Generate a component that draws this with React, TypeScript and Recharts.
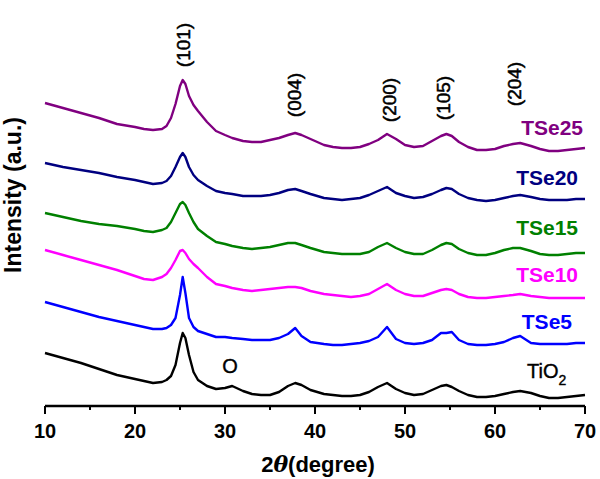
import React from "react"
import { LineChart, Line, XAxis, YAxis } from "recharts"

const twoTheta = [
  10, 12, 14, 16, 18, 20, 21, 22, 23, 23.5, 24, 24.5, 25, 25.3, 25.6, 26, 26.5, 27, 28, 29,
  30, 30.8, 32, 33, 34, 35, 36, 37, 37.8, 38.5, 39.5, 41, 42, 43, 44, 45, 46, 47, 48, 49,
  50, 51, 52, 53, 54, 54.6, 55.2, 56, 57, 58, 59, 60, 61, 62, 62.8, 64, 65, 66, 67, 68, 69, 70
]

// intensities (a.u., already offset for stacking)
const tio2 = [
  53, 48, 43, 37, 31, 27, 25, 23, 24, 26, 30, 41, 63, 73, 68, 51, 34, 26, 20, 17,
  18, 20, 15, 12, 11, 11, 14, 20, 23, 21, 16, 12, 11, 10, 10, 11, 14, 19, 23, 17,
  13, 11, 12, 16, 20, 21, 19, 15, 11, 9, 9, 10, 12, 14, 15, 13, 10, 8, 8, 9, 10, 11
]
const tse5 = [
  104, 99, 94, 89, 85, 81, 79, 77, 77, 78, 81, 88, 111, 129, 113, 88, 79, 75, 72, 69,
  69, 68, 67, 66, 66, 66, 68, 72, 78, 70, 64, 62, 61, 61, 62, 63, 65, 69, 79, 67,
  63, 62, 63, 66, 73, 73, 74, 66, 62, 61, 61, 62, 64, 68, 70, 63, 62, 62, 62, 62, 63, 63
]
const tse10 = [
  156, 151, 146, 141, 136, 130, 127, 126, 129, 132, 138, 146, 155, 156, 153, 147, 142, 138, 129, 122,
  120, 118, 116, 115, 116, 117, 118, 119, 119, 118, 115, 112, 111, 110, 109, 110, 112, 117, 122, 116,
  112, 110, 110, 113, 116, 117, 116, 112, 109, 108, 108, 109, 110, 111, 112, 110, 109, 108, 108, 108, 108, 108
]
const tse15 = [
  193, 189, 185, 182, 180, 177, 175, 174, 176, 178, 184, 193, 202, 204, 201, 193, 184, 177, 170, 164,
  162, 160, 158, 157, 158, 159, 161, 163, 163, 161, 158, 154, 153, 152, 152, 152, 154, 159, 163, 158,
  154, 152, 152, 156, 161, 163, 162, 157, 153, 151, 151, 153, 156, 158, 158, 155, 152, 151, 151, 152, 153, 153
]
const tse20 = [
  243, 239, 236, 233, 229, 226, 224, 222, 223, 225, 230, 239, 249, 253, 249, 239, 231, 226, 220, 215,
  213, 212, 210, 210, 210, 211, 213, 216, 217, 215, 212, 208, 207, 206, 207, 208, 211, 215, 219, 213,
  210, 208, 209, 212, 216, 218, 217, 212, 208, 206, 205, 206, 208, 210, 211, 209, 207, 206, 206, 206, 207, 207
]
const tse25 = [
  303, 298, 293, 288, 282, 279, 277, 276, 277, 280, 288, 302, 320, 326, 322, 310, 301, 295, 284, 275,
  271, 268, 265, 264, 264, 266, 268, 271, 273, 271, 267, 261, 259, 258, 258, 259, 262, 266, 272, 267,
  261, 259, 260, 265, 270, 272, 270, 264, 259, 256, 256, 257, 260, 262, 263, 260, 257, 255, 255, 256, 257, 258
]

const xTicks = [10, 15, 20, 25, 30, 35, 40, 45, 50, 55, 60, 65, 70]

const series = [
  { key: "tio2", values: tio2, color: "#000000" },
  { key: "tse5", values: tse5, color: "#0000ff" },
  { key: "tse10", values: tse10, color: "#ff00ff" },
  { key: "tse15", values: tse15, color: "#008000" },
  { key: "tse20", values: tse20, color: "#000080" },
  { key: "tse25", values: tse25, color: "#800080" }
]

const data = twoTheta.map((x, i) => {
  const row: Record<string, number> = { x }
  series.forEach((s) => (row[s.key] = s.values[i]))
  return row
})

const font = "Arial, 'Liberation Sans', Helvetica, sans-serif"

const XTick = (props: any) => {
  const { x, y, payload } = props
  const major = payload.value % 10 === 0
  return (
    <g>
      <line x1={x} x2={x} y1={y} y2={y + (major ? 8 : 4)} stroke="#000" strokeWidth={2} />
      {major && (
        <text x={x} y={y + 32} textAnchor="middle" fontSize={20} fontWeight="bold" fontFamily={font} fill="#000">
          {payload.value}
        </text>
      )}
    </g>
  )
}

const peakLabels = [
  { text: "(101)", x: 190, y: 45 },
  { text: "(004)", x: 301, y: 95 },
  { text: "(200)", x: 396, y: 100 },
  { text: "(105)", x: 450, y: 98 },
  { text: "(204)", x: 521, y: 84 }
]

const sampleLabels = [
  { text: "TSe25", x: 583, y: 135, color: "#800080" },
  { text: "TSe20", x: 578, y: 185, color: "#000080" },
  { text: "TSe15", x: 578, y: 235, color: "#008000" },
  { text: "TSe10", x: 578, y: 282, color: "#ff00ff" },
  { text: "TSe5", x: 572, y: 329, color: "#0000ff" }
]

export default function App() {
  return (
    <div style={{ position: "absolute", left: 0, top: 0, width: 600, height: 479, background: "#fff" }}>
      <LineChart width={600} height={479} data={data} margin={{ top: 4, right: 15, left: 45, bottom: 0 }}>
        <XAxis
          dataKey="x"
          type="number"
          domain={[10, 70]}
          ticks={xTicks}
          interval={0}
          height={73}
          tickSize={0}
          tickMargin={0}
          tickLine={false}
          tick={<XTick />}
          axisLine={{ stroke: "#000", strokeWidth: 2.5 }}
        />
        <XAxis
          xAxisId="top"
          orientation="top"
          dataKey="x"
          type="number"
          domain={[10, 70]}
          height={0}
          tick={false}
          tickLine={false}
          axisLine={{ stroke: "#000", strokeWidth: 2.5 }}
        />
        <YAxis
          type="number"
          domain={[0, 402]}
          allowDataOverflow
          width={0}
          tick={false}
          tickLine={false}
          axisLine={{ stroke: "#000", strokeWidth: 2.5 }}
        />
        <YAxis
          yAxisId="right"
          orientation="right"
          type="number"
          domain={[0, 1]}
          width={0}
          tick={false}
          tickLine={false}
          axisLine={{ stroke: "#000", strokeWidth: 2.5 }}
        />
        {series.map((s) => (
          <Line
            key={s.key}
            dataKey={s.key}
            type="linear"
            stroke={s.color}
            strokeWidth={2.4}
            strokeLinejoin="round"
            dot={false}
            activeDot={false}
            isAnimationActive={false}
          />
        ))}
      </LineChart>
      <svg width={600} height={479} style={{ position: "absolute", left: 0, top: 0, pointerEvents: "none" }}>
        <text
          x={21}
          y={195}
          transform="rotate(-90, 21, 195)"
          textAnchor="middle"
          fontSize={23}
          fontWeight="bold"
          fontFamily={font}
        >
          Intensity (a.u.)
        </text>
        <text x={318} y={472} textAnchor="middle" fontSize={22} fontWeight="bold" fontFamily={font}>
          2<tspan fontStyle="italic" fontFamily="'DejaVu Serif', serif">θ</tspan>(degree)
        </text>
        {peakLabels.map((p) => (
          <text
            key={p.text}
            x={p.x}
            y={p.y}
            transform={`rotate(-90, ${p.x}, ${p.y})`}
            textAnchor="middle"
            fontSize={19}
            fontFamily={font}
            stroke="#000"
            strokeWidth={0.5}
          >
            {p.text}
          </text>
        ))}
        <text x={230} y={373} textAnchor="middle" fontSize={20} fontFamily={font} stroke="#000" strokeWidth={0.4}>
          O
        </text>
        {sampleLabels.map((l) => (
          <text key={l.text} x={l.x} y={l.y} textAnchor="end" fontSize={21} fontWeight="bold" fontFamily={font} fill={l.color}>
            {l.text}
          </text>
        ))}
        <text x={527} y={378} fontSize={20} fontFamily={font} stroke="#000" strokeWidth={0.4}>
          TiO<tspan fontSize={14} dy={7}>2</tspan>
        </text>
      </svg>
    </div>
  )
}
